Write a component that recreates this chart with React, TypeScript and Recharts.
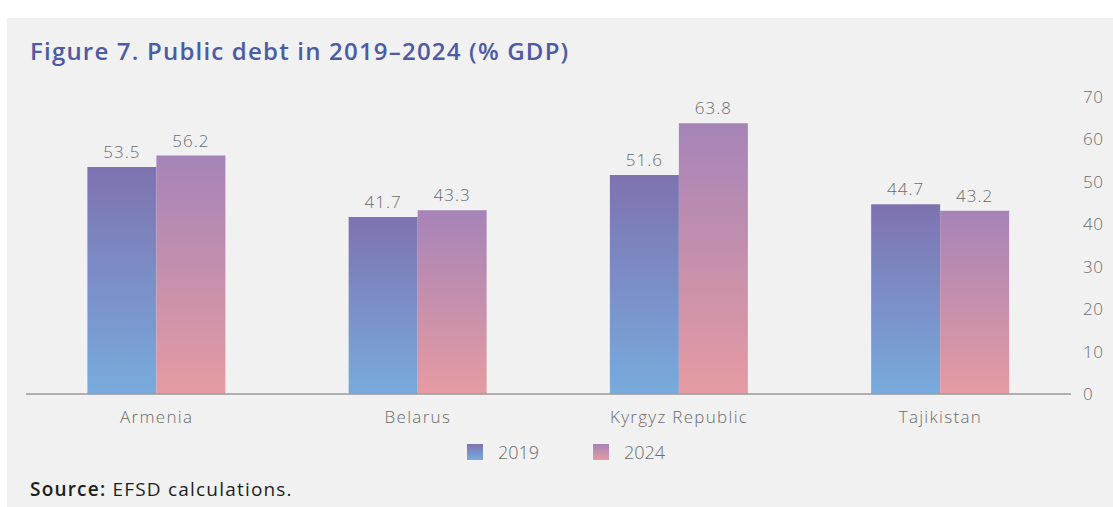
import { BarChart, Bar, XAxis, YAxis, LabelList } from 'recharts';

const countries = ['Armenia', 'Belarus', 'Kyrgyz Republic', 'Tajikistan'];
const debt2019 = [53.5, 41.7, 51.6, 44.7];
const debt2024 = [56.2, 43.3, 63.8, 43.2];
const yTicks = [0, 10, 20, 30, 40, 50, 60, 70];

const FONT = '"Open Sans", "Noto Sans", sans-serif';
const GREY = '#6b6b6b';

const data = countries.map((name, i) => ({
  name,
  y2019: debt2019[i],
  y2024: debt2024[i],
}));

const LegendItem = ({ label, from, to, left }: { label: string; from: string; to: string; left: number }) => (
  <div style={{ position: 'absolute', left, top: 422, display: 'flex', alignItems: 'center' }}>
    <div style={{ width: 16, height: 16, background: `linear-gradient(${from}, ${to})` }} />
    <span style={{ marginLeft: 15, fontSize: 18, fontWeight: 300, color: GREY, fontFamily: FONT }}>{label}</span>
  </div>
);

export default function App() {
  return (
    <div
      style={{
        position: 'absolute',
        left: 7,
        top: 18,
        width: 1106,
        height: 489,
        background: '#f1f1f1',
        fontFamily: FONT,
      }}
    >
      <div
        style={{
          position: 'absolute',
          left: 23,
          top: 16,
          fontSize: 24,
          fontWeight: 600,
          letterSpacing: 1.2,
          color: '#4b5ba7',
          whiteSpace: 'nowrap',
        }}
      >
        Figure 7. Public debt in 2019–2024 (% GDP)
      </div>

      <div style={{ position: 'absolute', left: 0, top: 0 }}>
        <BarChart
          width={1106}
          height={410}
          data={data}
          margin={{ top: 79, right: 0, bottom: 0, left: 19 }}
          barCategoryGap="23.5%"
          barGap={0}
        >
          <defs>
            <linearGradient id="g2019" x1="0" y1="0" x2="0" y2="1">
              <stop offset="0%" stopColor="#7e72b0" />
              <stop offset="100%" stopColor="#78abdc" />
            </linearGradient>
            <linearGradient id="g2024" x1="0" y1="0" x2="0" y2="1">
              <stop offset="0%" stopColor="#a584b8" />
              <stop offset="100%" stopColor="#e69ba2" />
            </linearGradient>
          </defs>
          <XAxis
            dataKey="name"
            height={34}
            axisLine={{ stroke: '#9a9a9a', strokeWidth: 1.5 }}
            tickLine={false}
            tickMargin={11}
            tick={{ fill: GREY, fontSize: 17, fontWeight: 300, fontFamily: FONT, letterSpacing: 1.3 }}
          />
          <YAxis
            orientation="right"
            width={42}
            domain={[0, 70]}
            ticks={yTicks}
            axisLine={false}
            tickLine={false}
            tickMargin={6}
            tick={{ fill: GREY, fontSize: 17, fontWeight: 300, fontFamily: FONT, textAnchor: 'start', letterSpacing: 0.6 }}
          />
          <Bar dataKey="y2019" fill="url(#g2019)" isAnimationActive={false}>
            <LabelList dataKey="y2019" position="top" offset={9} fill={GREY} fontSize={17} fontWeight={300} fontFamily={FONT} letterSpacing={1} />
          </Bar>
          <Bar dataKey="y2024" fill="url(#g2024)" isAnimationActive={false}>
            <LabelList dataKey="y2024" position="top" offset={9} fill={GREY} fontSize={17} fontWeight={300} fontFamily={FONT} letterSpacing={1} />
          </Bar>
        </BarChart>
      </div>

      <LegendItem label="2019" from="#7e72b0" to="#78abdc" left={460} />
      <LegendItem label="2024" from="#a584b8" to="#e69ba2" left={586} />

      <div
        style={{
          position: 'absolute',
          left: 23,
          top: 458,
          fontSize: 19,
          letterSpacing: 1.2,
          color: '#1e1e1e',
          whiteSpace: 'nowrap',
        }}
      >
        <b style={{ fontWeight: 600 }}>Source:</b> EFSD calculations.
      </div>
    </div>
  );
}
